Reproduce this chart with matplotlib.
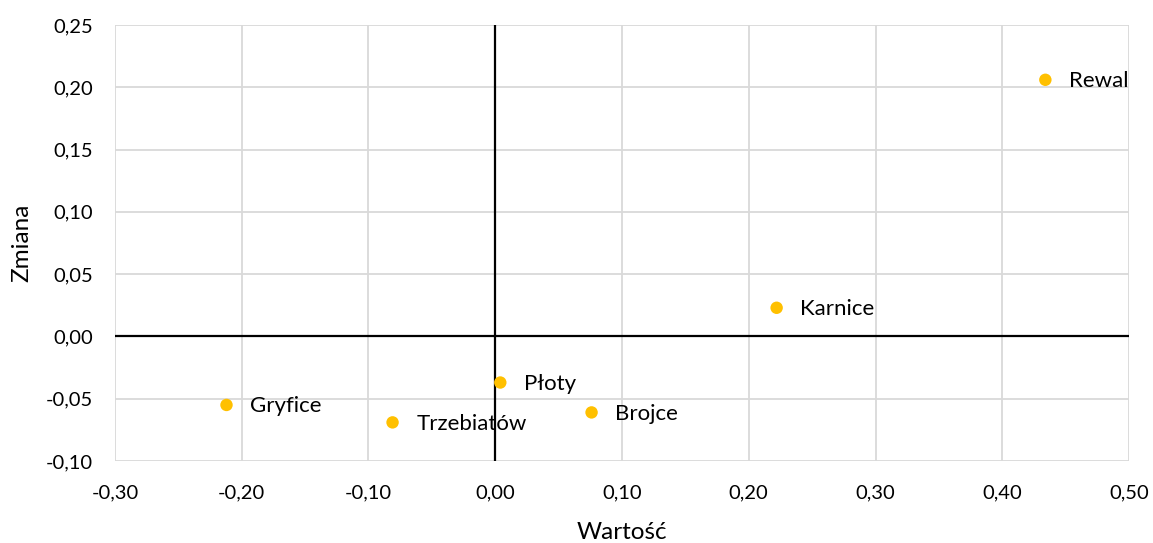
import matplotlib
matplotlib.use("Agg")
import matplotlib.pyplot as plt
from matplotlib.ticker import FuncFormatter, MultipleLocator

names = ["Rewal", "Karnice", "Płoty", "Brojce", "Trzebiatów", "Gryfice"]
wartosc = [0.434, 0.222, 0.004, 0.076, -0.081, -0.212]
zmiana = [0.206, 0.023, -0.037, -0.061, -0.069, -0.055]

plt.rcParams['font.family'] = ['Lato', 'DejaVu Sans']

fig = plt.figure(figsize=(11.53, 5.43), dpi=100)
ax = fig.add_axes([0.0997, 0.151, 0.8795, 0.803])

ax.set_xlim(-0.30, 0.50)
ax.set_ylim(-0.10, 0.25)
ax.xaxis.set_major_locator(MultipleLocator(0.1))
ax.yaxis.set_major_locator(MultipleLocator(0.05))
fmt = FuncFormatter(lambda v, p: f"{v:.2f}".replace(".", ",").replace("-0,00", "0,00"))
ax.xaxis.set_major_formatter(fmt)
ax.yaxis.set_major_formatter(fmt)

ax.grid(True, color="#d9d9d9", linewidth=1.3)
ax.set_axisbelow(True)
for s in ax.spines.values():
    s.set_visible(False)
ax.axhline(0, color="black", linewidth=1.6, zorder=2)
ax.axvline(0, color="black", linewidth=1.6, zorder=2)
ax.tick_params(length=0, labelsize=14.5, colors="black")
ax.tick_params(axis="x", pad=17)
ax.tick_params(axis="y", pad=16)

ax.scatter(wartosc, zmiana, s=80, color="#FFC000", zorder=3, edgecolors="none")
for n, x, y in zip(names, wartosc, zmiana):
    ax.annotate(n, (x, y), xytext=(17, -1), textcoords="offset points",
                fontsize=16, va="center", ha="left")

ax.set_xlabel("Wartość", fontsize=17.5, va="center")
ax.xaxis.set_label_coords(0.5, -0.163)
ax.set_ylabel("Zmiana", fontsize=17.5, va="center")
ax.yaxis.set_label_coords(-0.0917, 0.5)

fig.savefig("out.png", dpi=100)
